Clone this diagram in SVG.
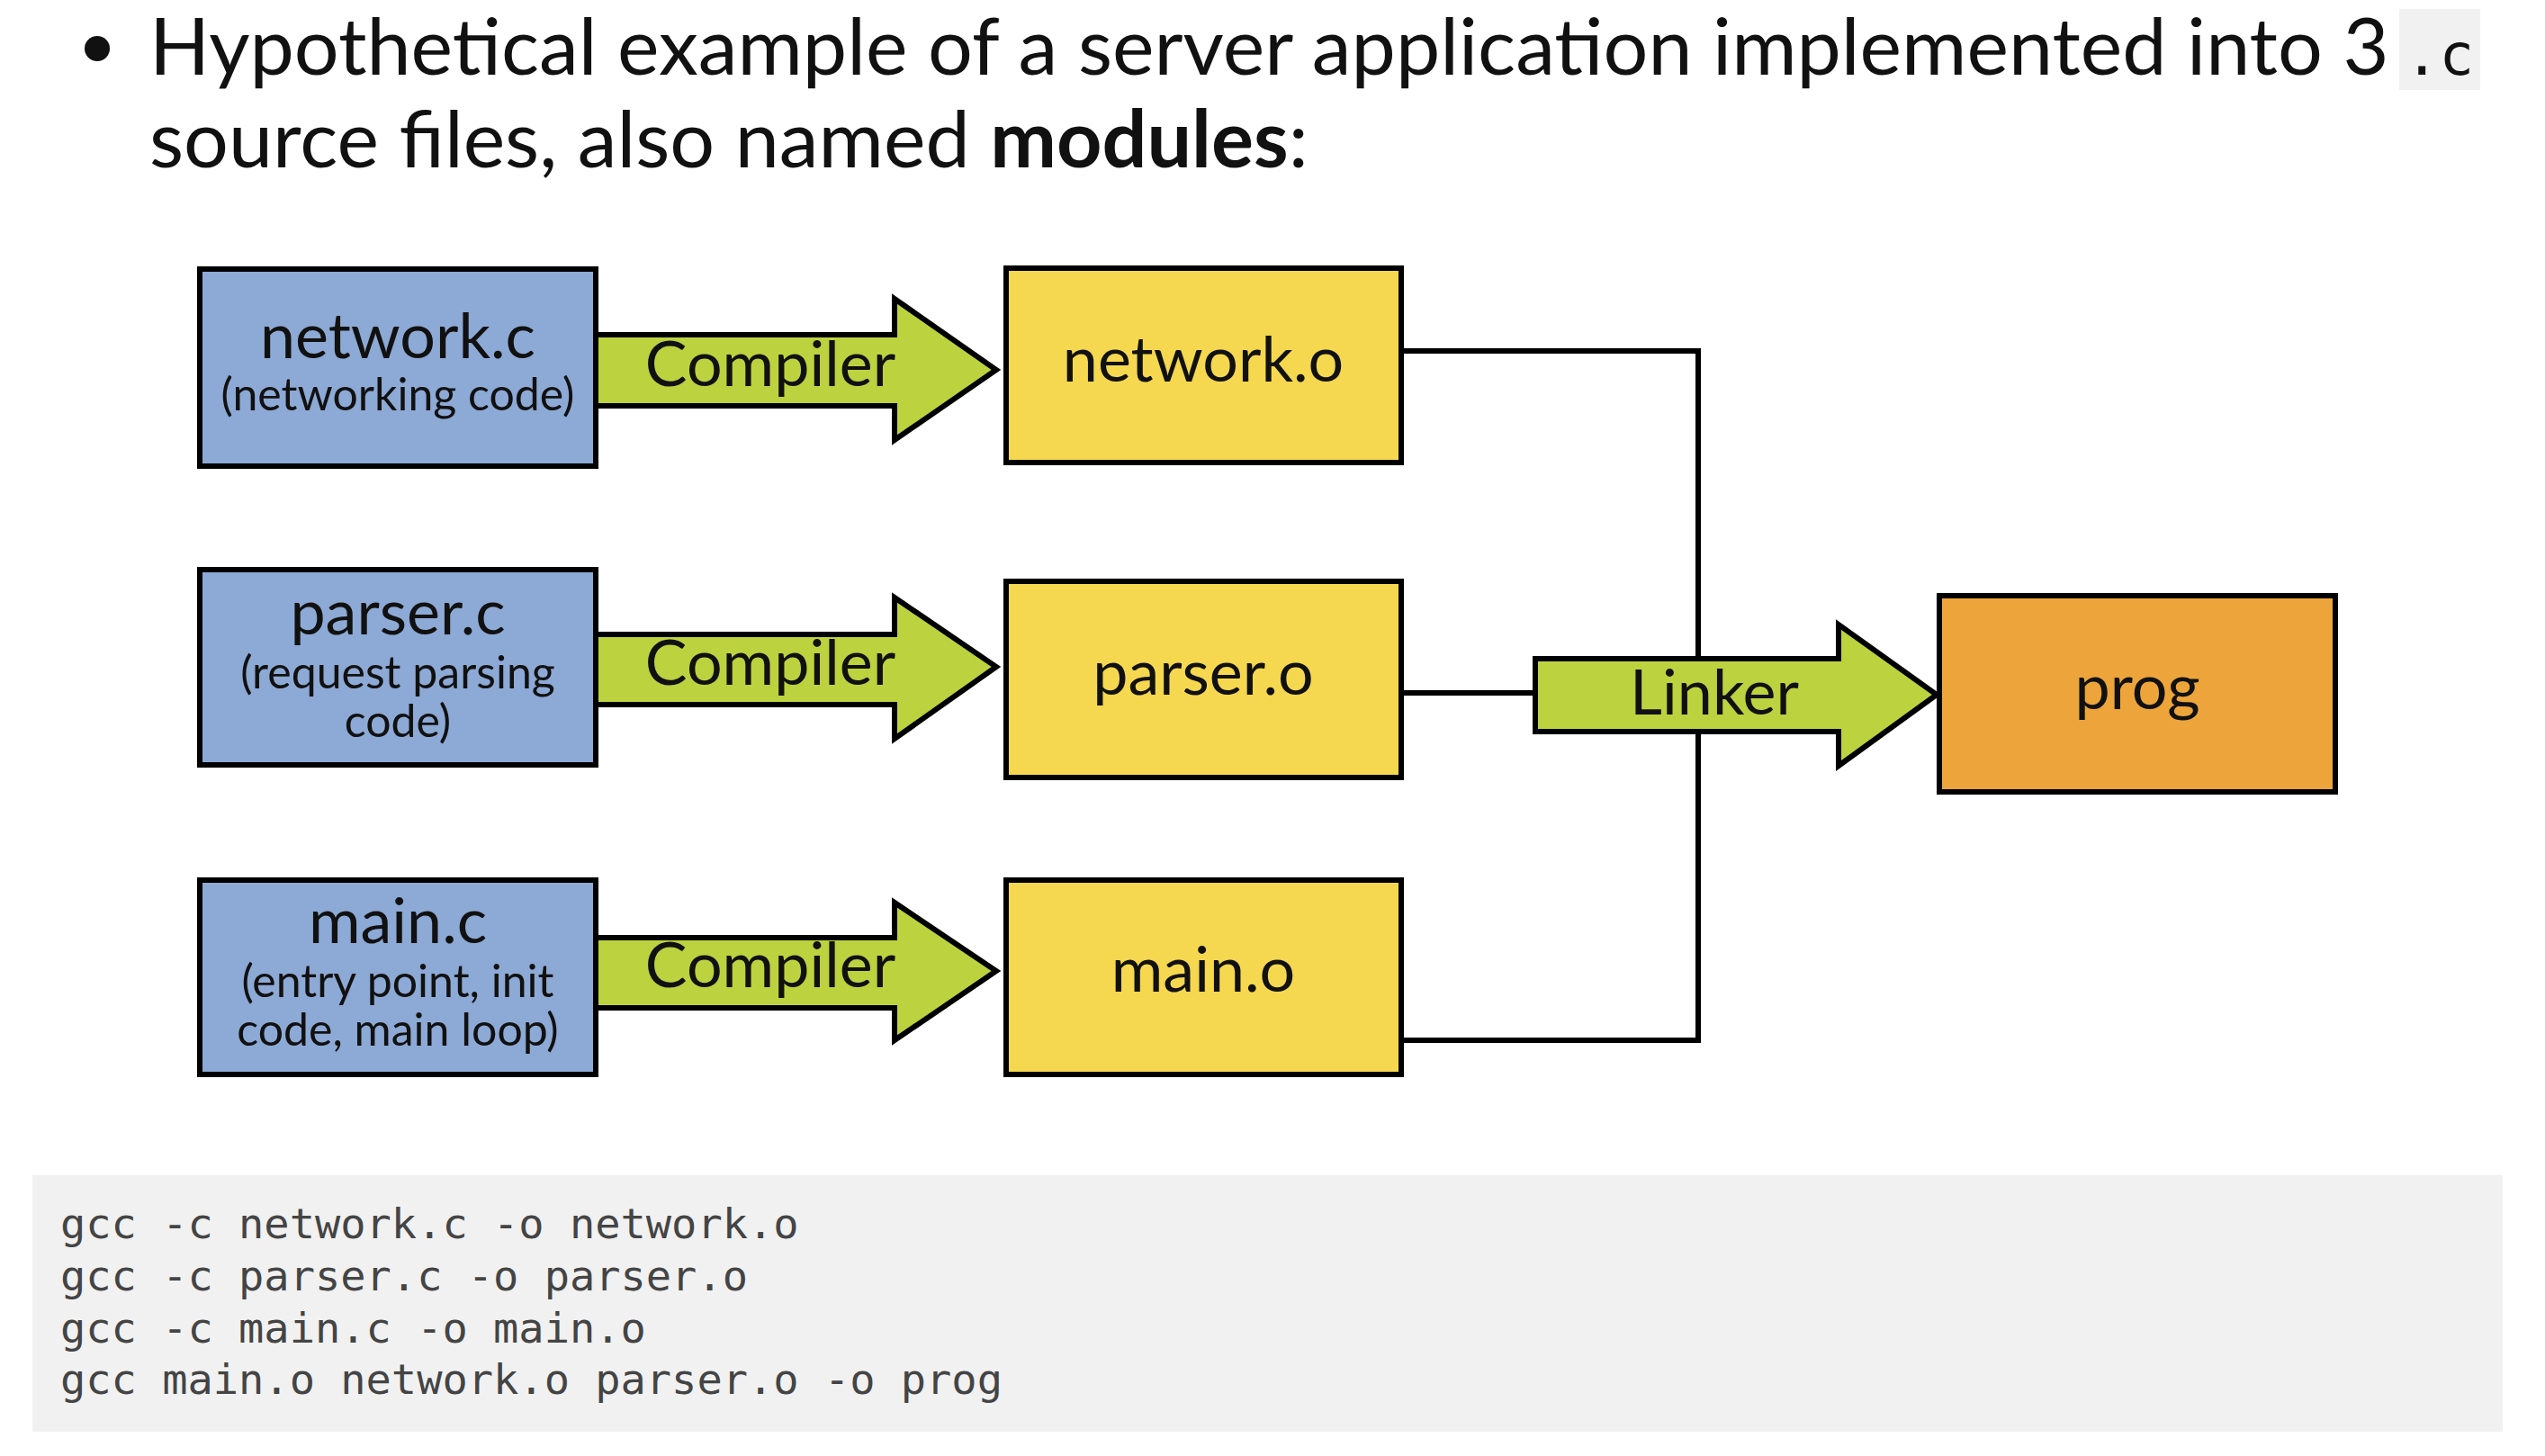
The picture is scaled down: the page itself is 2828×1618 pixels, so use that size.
<svg xmlns="http://www.w3.org/2000/svg" width="2828" height="1618" viewBox="0 0 2828 1618">
<style>
.box{stroke:#000;stroke-width:6}
.src{fill:#8DA9D5}
.obj{fill:#F5D84F}
.out{fill:#EDA53B}
.arr{fill:#BDD23F;stroke:#000;stroke-width:6;stroke-linejoin:miter}
.t{font-family:Lato,"Open Sans",sans-serif;fill:#111;text-anchor:middle}
.big{font-size:70px}
.sm{font-size:50px}
.title{font-family:Lato,"Open Sans",sans-serif;font-size:88px;fill:#111}
.code{font-family:"DejaVu Sans Mono","Liberation Mono",monospace;font-size:47px;fill:#444}
.wire{fill:none;stroke:#000;stroke-width:6}
</style>
<rect width="2828" height="1618" fill="#fff"/>
<g id="title">
<circle cx="108" cy="54" r="14" fill="#111"/>
<rect x="2666" y="10" width="90" height="90" fill="#f1f1f1"/>
<text class="title" x="166" y="83">Hypothetical example of a server application implemented into 3</text>
<text x="2672" y="83" style="font-family:'DejaVu Sans Mono',monospace;font-size:64px;fill:#111">.c</text>
<text class="title" x="166" y="186">source files, also named <tspan font-weight="bold">modules</tspan>:</text>
</g>
<g id="connectors">
<polyline class="wire" points="1557,390 1887,390 1887,1156 1557,1156"/>
<line class="wire" x1="1557" y1="770" x2="1706" y2="770"/>
</g>
<g id="network_c"><rect class="box src" x="222" y="299" width="440" height="219"/>
<text class="t big" x="442" y="398">network.c</text><text class="t sm" x="442" y="456">(networking code)</text></g>
<g id="compiler1"><polygon class="arr" points="662,372 994,372 994,332 1107,411 994,489 994,451 662,451"/>
<text class="t big" x="856" y="429">Compiler</text></g>
<g id="network_o"><rect class="box obj" x="1118" y="298" width="439" height="216"/>
<text class="t big" x="1337" y="424">network.o</text></g>
<g id="parser_c"><rect class="box src" x="222" y="633" width="440" height="217"/>
<text class="t big" x="442" y="705">parser.c</text><text class="t sm" x="442" y="765">(request parsing</text><text class="t sm" x="442" y="819">code)</text></g>
<g id="compiler2"><polygon class="arr" points="662,705 994,705 994,664 1107,741 994,821 994,783 662,783"/>
<text class="t big" x="856" y="761">Compiler</text></g>
<g id="parser_o"><rect class="box obj" x="1118" y="646" width="439" height="218"/>
<text class="t big" x="1337" y="772">parser.o</text></g>
<g id="main_c"><rect class="box src" x="222" y="978" width="440" height="216"/>
<text class="t big" x="442" y="1048">main.c</text><text class="t sm" x="442" y="1108">(entry point, init</text><text class="t sm" x="442" y="1162">code, main loop)</text></g>
<g id="compiler3"><polygon class="arr" points="662,1042 994,1042 994,1003 1107,1079 994,1156 994,1120 662,1120"/>
<text class="t big" x="856" y="1097">Compiler</text></g>
<g id="main_o"><rect class="box obj" x="1118" y="978" width="439" height="216"/>
<text class="t big" x="1337" y="1102">main.o</text></g>
<g id="linker"><polygon class="arr" points="1706,732 2043,732 2043,694 2152,772 2043,851 2043,813 1706,813"/>
<text class="t big" x="1905" y="794">Linker</text></g>
<g id="prog"><rect class="box out" x="2155" y="662" width="440" height="218"/>
<text class="t big" x="2375" y="788">prog</text></g>
<g id="code">
<rect x="36" y="1306" width="2745" height="285" fill="#f1f1f1"/>
<text class="code" x="67" y="1376">gcc -c network.c -o network.o</text>
<text class="code" x="67" y="1434">gcc -c parser.c -o parser.o</text>
<text class="code" x="67" y="1492">gcc -c main.c -o main.o</text>
<text class="code" x="67" y="1549">gcc main.o network.o parser.o -o prog</text>
</g>
</svg>
